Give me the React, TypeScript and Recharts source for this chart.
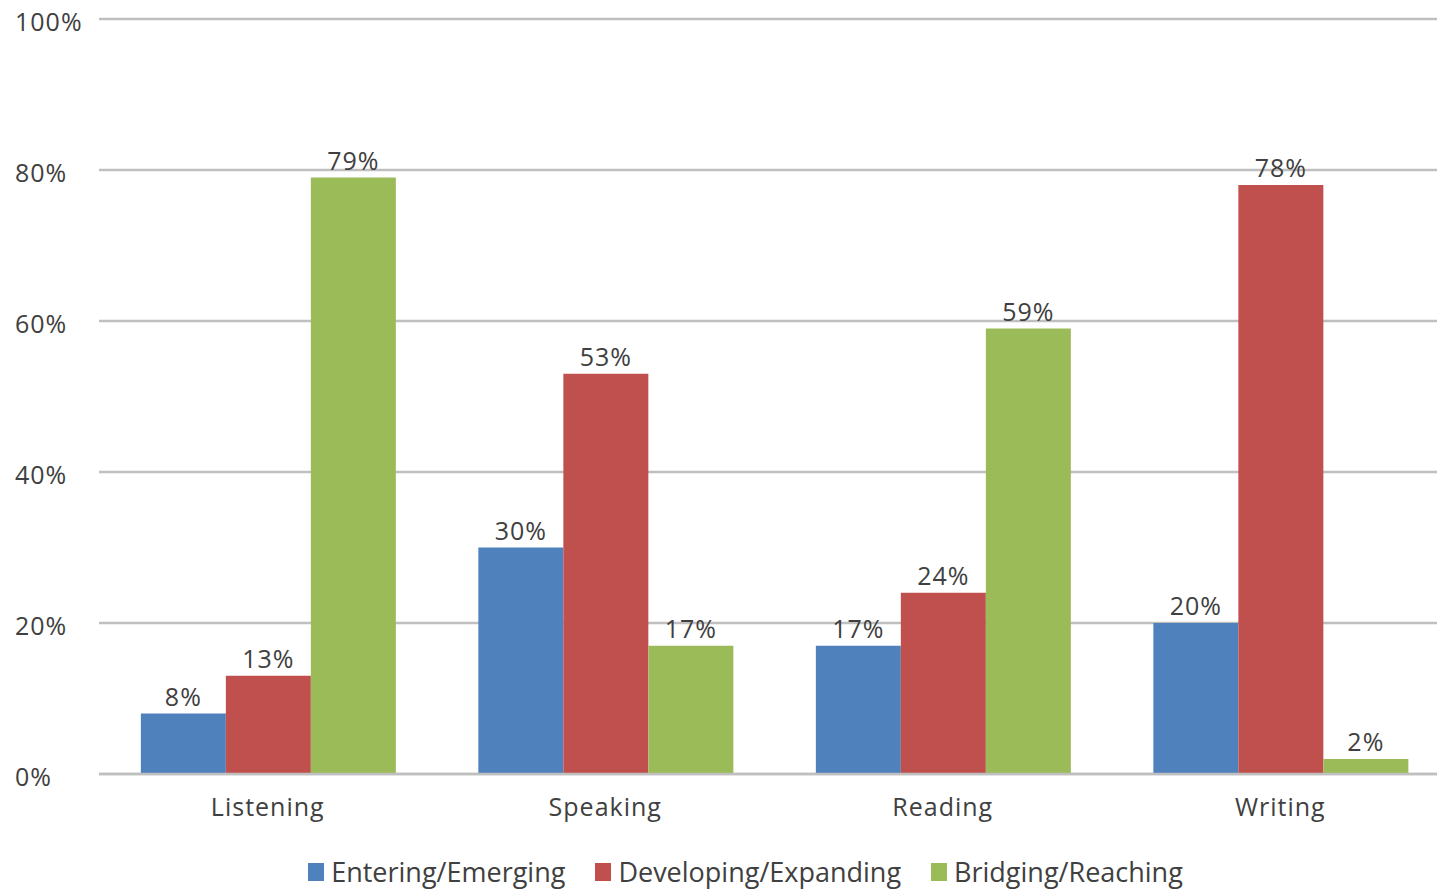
import { BarChart, Bar, XAxis, YAxis, CartesianGrid, Legend, LabelList } from "recharts";

const skills = ["Listening", "Speaking", "Reading", "Writing"];
const entering = [8, 30, 17, 20];
const developing = [13, 53, 24, 78];
const bridging = [79, 17, 59, 2];
const yTicks = [0, 20, 40, 60, 80, 100];

const seriesNames = ["Entering/Emerging", "Developing/Expanding", "Bridging/Reaching"];
const seriesColors = ["#4F81BD", "#C0504D", "#9BBB59"];

const data = skills.map((skill, i) => ({
    skill,
    entering: entering[i],
    developing: developing[i],
    bridging: bridging[i],
}));

const FONT = "'Open Sans', sans-serif";
const TEXT = "#404040";
const GRID = "#BFBFBF";

function YTick(props: any) {
    const { y, payload } = props;
    return (
        <text x={15} y={y} dy={2} textAnchor="start" dominantBaseline="central" fill={TEXT} fontSize={25} letterSpacing={1} fontFamily={FONT}>
            {payload.value + "%"}
        </text>
    );
}

function XTick(props: any) {
    const { x, y, payload } = props;
    return (
        <text x={x} y={y} dy={34} textAnchor="middle" fill={TEXT} fontSize={25} letterSpacing={1} fontFamily={FONT}>
            {payload.value}
        </text>
    );
}

function LegendContent() {
    return (
        <div style={{ display: "flex", justifyContent: "center", paddingLeft: 42, paddingTop: 12, height: 32, fontFamily: FONT, fontSize: 27, color: TEXT, lineHeight: "32px" }}>
            {seriesNames.map((name, i) => (
                <div key={name} style={{ display: "flex", alignItems: "center", marginRight: i < 2 ? 30 : 0 }}>
                    <span style={{ display: "inline-block", width: 16, height: 18, background: seriesColors[i], marginRight: 7 }} />
                    <span>{name}</span>
                </div>
            ))}
        </div>
    );
}

export default function App() {
    const keys = ["entering", "developing", "bridging"];
    return (
        <div style={{ width: 1437, height: 890, overflow: "hidden", background: "#fff" }}>
            <style>{"body{margin:0}"}</style>
            <BarChart
                width={1450} height={890} data={data}
                margin={{ top: 19, right: 1, left: 0, bottom: 0 }}
                barCategoryGap={"12.4%"} barGap={0}
            >
                <CartesianGrid vertical={false} stroke={GRID} strokeWidth={2.5} />
                <XAxis dataKey="skill" height={70} tickLine={false} axisLine={{ stroke: GRID, strokeWidth: 2.5 }} tick={<XTick />} />
                <YAxis width={99} domain={[0, 100]} ticks={yTicks} axisLine={false} tickLine={false} tick={<YTick />} />
                <Legend verticalAlign="bottom" height={46} content={<LegendContent />} />
                {keys.map((k, i) => (
                    <Bar key={k} dataKey={k} name={seriesNames[i]} fill={seriesColors[i]} isAnimationActive={false}>
                        <LabelList dataKey={k} position="top" offset={8} formatter={(v: any) => v + "%"} fill={TEXT} fontSize={25} letterSpacing={1} fontFamily={FONT} />
                    </Bar>
                ))}
            </BarChart>
        </div>
    );
}
